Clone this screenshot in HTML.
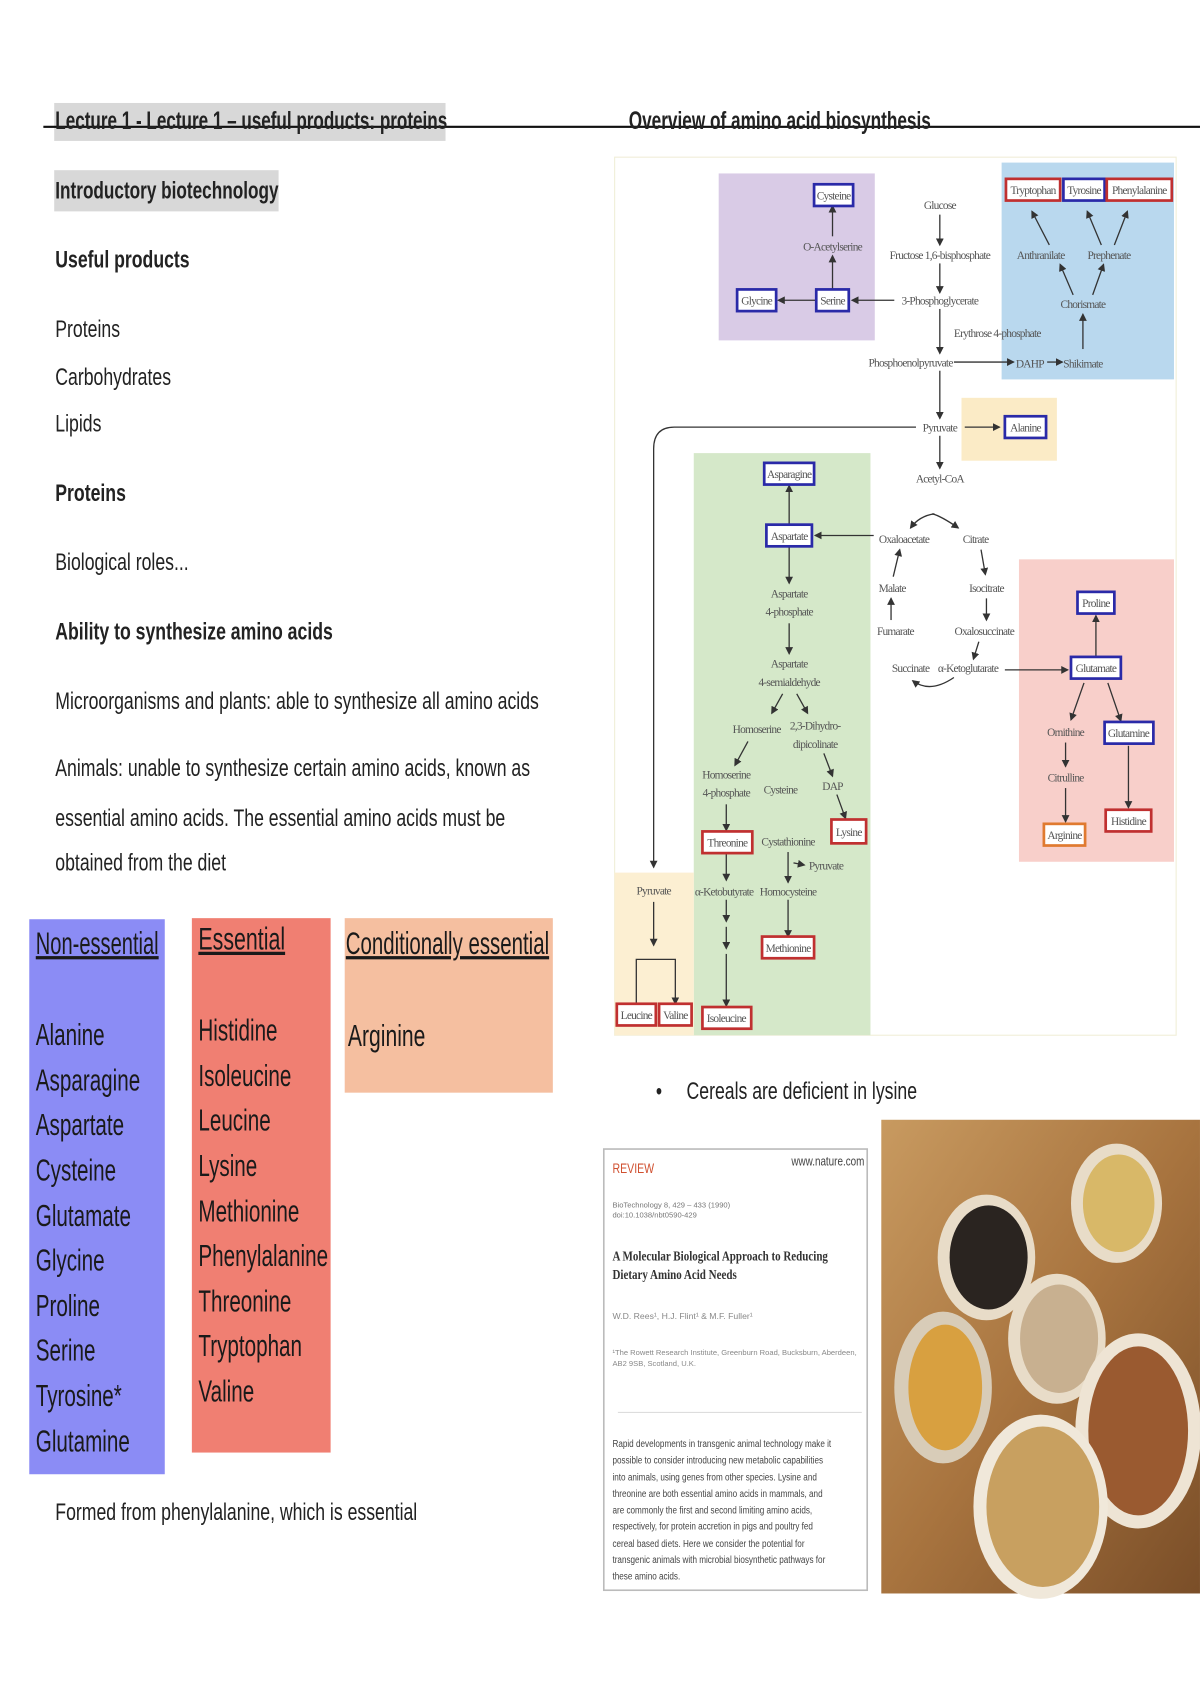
<!DOCTYPE html>
<html><head><meta charset="utf-8">
<style>
html,body{margin:0;padding:0;background:#fff;}
body{width:1200px;height:1700px;overflow:hidden;position:relative;}
#w{position:absolute;left:0;top:0;width:1107px;height:1568px;transform:scale(1.084);transform-origin:0 0;font-family:"Liberation Sans",sans-serif;color:#222;}
.t{position:absolute;white-space:nowrap;font-size:22px;line-height:1;transform:scaleX(0.74);transform-origin:0 0;}
.b{font-weight:bold;}
.box{position:absolute;}
.lst{position:absolute;font-size:28px;line-height:41.6px;color:#1a1a1a;white-space:nowrap;transform:scaleX(0.68);transform-origin:0 0;}
.hd{font-size:29px;text-decoration:underline;text-decoration-thickness:3px;}
svg text{font-family:"Liberation Serif",serif;font-size:10.5px;fill:#555;text-anchor:middle;letter-spacing:-0.7px;}
</style></head><body><div id="w">
<div class="box" style="left:50px;top:95px;width:361px;height:35px;background:#d8d8d8"></div>
<div class="box" style="left:40px;top:116px;width:1067px;height:2px;background:#111"></div>
<div class="t b" style="left:51px;top:100px;font-size:23px;transform:scaleX(0.685)">Lecture 1 - Lecture 1 – useful products: proteins</div>
<div class="t b" style="left:580px;top:100px;font-size:23px;transform:scaleX(0.69)">Overview of amino acid biosynthesis</div>
<div class="box" style="left:50px;top:157px;width:207px;height:38px;background:#d8d8d8"></div>
<div class="t b" style="left:51px;top:165px;transform:scaleX(0.72)">Introductory biotechnology</div>
<div class="t b" style="left:51px;top:229px">Useful products</div>
<div class="t" style="left:51px;top:293px">Proteins</div>
<div class="t" style="left:51px;top:337px">Carbohydrates</div>
<div class="t" style="left:51px;top:380px">Lipids</div>
<div class="t b" style="left:51px;top:444px">Proteins</div>
<div class="t" style="left:51px;top:508px">Biological roles...</div>
<div class="t b" style="left:51px;top:572px">Ability to synthesize amino acids</div>
<div class="t" style="left:51px;top:636px">Microorganisms and plants: able to synthesize all amino acids</div>
<div class="t" style="left:51px;top:698px">Animals: unable to synthesize certain amino acids, known as</div>
<div class="t" style="left:51px;top:744px">essential amino acids. The essential amino acids must be</div>
<div class="t" style="left:51px;top:785px">obtained from the diet</div>
<div class="box" style="left:27px;top:848px;width:125px;height:512px;background:#8b8cf5"></div>
<div class="box" style="left:177px;top:847px;width:128px;height:493px;background:#f07f72"></div>
<div class="box" style="left:318px;top:847px;width:192px;height:161px;background:#f5bfa0"></div>
<div class="lst" style="left:33px;top:851px"><div class="hd" style="transform:scaleX(0.94);transform-origin:0 0">Non-essential</div><br>Alanine<br>Asparagine<br>Aspartate<br>Cysteine<br>Glutamate<br>Glycine<br>Proline<br>Serine<br>Tyrosine*<br>Glutamine</div>
<div class="lst" style="left:183px;top:847px"><div class="hd">Essential</div><br>Histidine<br>Isoleucine<br>Leucine<br>Lysine<br>Methionine<br>Phenylalanine<br>Threonine<br>Tryptophan<br>Valine</div>
<div class="lst" style="left:319px;top:851px;transform:scaleX(0.65)"><div class="hd">Conditionally essential</div><div style="margin-top:42px;margin-left:3px;transform:scaleX(1.07);transform-origin:0 0">Arginine</div></div>
<div class="t" style="left:51px;top:1384px">Formed from phenylalanine, which is essential</div>
<div class="t" style="left:605px;top:996px">•&nbsp;&nbsp;&nbsp;&nbsp;&nbsp;Cereals are deficient in lysine</div>
<svg style="position:absolute;left:0;top:0" width="1107" height="1568">
<defs><marker id="a" markerWidth="6" markerHeight="6" refX="5" refY="3" orient="auto"><path d="M0,0L6,3L0,6z" fill="#333"/></marker></defs>
<rect x="567" y="145" width="518" height="810" fill="#fff" stroke="#f0eed8"/>
<rect x="663" y="160" width="144" height="154" fill="#d9cbe6"/>
<rect x="924" y="150" width="159" height="200" fill="#b9d8ee"/>
<rect x="887" y="367" width="88" height="58" fill="#fbebc6"/>
<rect x="640" y="418" width="163" height="537" fill="#d5e8c9"/>
<rect x="940" y="516" width="143" height="279" fill="#f8cfca"/>
<rect x="567" y="805" width="73" height="150" fill="#fcefd2"/>
<g stroke="#333" stroke-width="1.2" fill="none" marker-end="url(#a)">
<line x1="867" y1="198" x2="867" y2="226"/><line x1="867" y1="243" x2="867" y2="270"/>
<line x1="867" y1="285" x2="867" y2="326"/><line x1="867" y1="342" x2="867" y2="386"/>
<line x1="867" y1="402" x2="867" y2="432"/>
<line x1="825" y1="277" x2="786" y2="277"/><line x1="752" y1="277" x2="718" y2="277"/>
<line x1="768" y1="267" x2="768" y2="236"/><line x1="768" y1="218" x2="768" y2="190"/>
<line x1="880" y1="334" x2="935" y2="334"/><line x1="966" y1="334" x2="980" y2="334"/>
<line x1="999" y1="322" x2="999" y2="290"/><line x1="990" y1="272" x2="978" y2="244"/>
<line x1="1008" y1="272" x2="1018" y2="244"/><line x1="968" y1="226" x2="952" y2="195"/>
<line x1="1016" y1="226" x2="1003" y2="195"/><line x1="1028" y1="226" x2="1040" y2="195"/>
<line x1="890" y1="394" x2="922" y2="394"/>
<path d="M845,394 L622,394 Q603,394 603,414 L603,800"/>
<line x1="806" y1="494" x2="752" y2="494"/><line x1="728" y1="484" x2="728" y2="448"/>
<line x1="728" y1="505" x2="728" y2="538"/><line x1="728" y1="575" x2="728" y2="603"/>
<line x1="722" y1="640" x2="712" y2="658"/><line x1="735" y1="640" x2="745" y2="658"/>
<line x1="690" y1="684" x2="678" y2="706"/><line x1="760" y1="695" x2="768" y2="716"/>
<line x1="772" y1="733" x2="780" y2="755"/><line x1="670" y1="742" x2="670" y2="766"/>
<line x1="670" y1="788" x2="670" y2="812"/><line x1="670" y1="830" x2="670" y2="850"/>
<line x1="670" y1="855" x2="670" y2="875"/><line x1="670" y1="880" x2="670" y2="928"/>
<line x1="727" y1="786" x2="727" y2="814"/><line x1="727" y1="830" x2="727" y2="864"/>
<line x1="732" y1="796" x2="742" y2="798"/>
<line x1="603" y1="832" x2="603" y2="872"/>
<path d="M587,926 L587,885 L623,885 L623,926"/>
<line x1="927" y1="618" x2="985" y2="618"/>
<line x1="1011" y1="606" x2="1011" y2="568"/><line x1="1000" y1="630" x2="988" y2="664"/>
<line x1="1022" y1="630" x2="1034" y2="665"/><line x1="983" y1="685" x2="983" y2="707"/>
<line x1="983" y1="727" x2="983" y2="758"/><line x1="1041" y1="688" x2="1041" y2="745"/>
<path d="M860,474 Q868,476 884,487"/><path d="M862,474 Q848,476 840,487"/>
<path d="M905,507 L909,530"/><path d="M910,552 L910,572"/><path d="M903,592 L898,608"/>
<path d="M880,625 Q858,640 842,628"/><path d="M822,572 L822,552"/><path d="M824,532 L830,507"/>
</g>
<g>
<text x="867" y="193">Glucose</text><text x="867" y="239">Fructose 1,6-bisphosphate</text>
<text x="867" y="281">3-Phosphoglycerate</text><text x="920" y="311">Erythrose 4-phosphate</text>
<text x="840" y="338">Phosphoenolpyruvate</text><text x="950" y="339">DAHP</text><text x="999" y="339">Shikimate</text>
<text x="960" y="239">Anthranilate</text><text x="1023" y="239">Prephenate</text><text x="999" y="284">Chorismate</text>
<text x="768" y="231">O-Acetylserine</text>
<text x="867" y="398">Pyruvate</text><text x="867" y="445">Acetyl-CoA</text>
<text x="834" y="501">Oxaloacetate</text><text x="900" y="501">Citrate</text>
<text x="823" y="546">Malate</text><text x="910" y="546">Isocitrate</text>
<text x="826" y="586">Fumarate</text><text x="908" y="586">Oxalosuccinate</text>
<text x="840" y="620">Succinate</text><text x="893" y="620">α-Ketoglutarate</text>
<text x="983" y="679">Ornithine</text><text x="983" y="721">Citrulline</text>
<text x="728" y="551">Aspartate</text><text x="728" y="568">4-phosphate</text>
<text x="728" y="616">Aspartate</text><text x="728" y="633">4-semialdehyde</text>
<text x="698" y="676">Homoserine</text><text x="752" y="673">2,3-Dihydro-</text><text x="752" y="690">dipicolinate</text>
<text x="670" y="718">Homoserine</text><text x="670" y="735">4-phosphate</text>
<text x="720" y="732">Cysteine</text><text x="768" y="729">DAP</text>
<text x="727" y="780">Cystathionine</text><text x="762" y="802">Pyruvate</text>
<text x="668" y="826">α-Ketobutyrate</text><text x="727" y="826">Homocysteine</text>
<text x="603" y="825">Pyruvate</text>
</g>
<g fill="#fff" stroke-width="2.5">
<rect x="751" y="170" width="36" height="20" stroke="#2a2aa8"/><rect x="753" y="267" width="30" height="20" stroke="#2a2aa8"/>
<rect x="680" y="267" width="36" height="20" stroke="#2a2aa8"/>
<rect x="928" y="165" width="50" height="20" stroke="#c03030"/><rect x="981" y="165" width="38" height="20" stroke="#2a2aa8"/>
<rect x="1021" y="165" width="60" height="20" stroke="#c03030"/>
<rect x="927" y="384" width="38" height="20" stroke="#2a2aa8"/>
<rect x="705" y="427" width="46" height="20" stroke="#2a2aa8"/><rect x="707" y="484" width="42" height="20" stroke="#2a2aa8"/>
<rect x="994" y="546" width="34" height="20" stroke="#2a2aa8"/><rect x="988" y="606" width="46" height="20" stroke="#2a2aa8"/>
<rect x="1019" y="666" width="45" height="20" stroke="#2a2aa8"/>
<rect x="963" y="760" width="38" height="20" stroke="#e07a30"/><rect x="1020" y="747" width="42" height="20" stroke="#c03030"/>
<rect x="767" y="756" width="32" height="22" stroke="#c03030"/><rect x="648" y="767" width="46" height="20" stroke="#c03030"/>
<rect x="703" y="864" width="48" height="20" stroke="#c03030"/><rect x="648" y="929" width="45" height="20" stroke="#c03030"/>
<rect x="569" y="926" width="36" height="20" stroke="#c03030"/><rect x="608" y="926" width="30" height="20" stroke="#c03030"/>
</g>
<g style="font-size:9.5px">
<text x="769" y="184">Cysteine</text><text x="768" y="281">Serine</text><text x="698" y="281">Glycine</text>
<text x="953" y="179">Tryptophan</text><text x="1000" y="179">Tyrosine</text><text x="1051" y="179">Phenylalanine</text>
<text x="946" y="398">Alanine</text><text x="728" y="441">Asparagine</text><text x="728" y="498">Aspartate</text>
<text x="1011" y="560">Proline</text><text x="1011" y="620">Glutamate</text><text x="1041" y="680">Glutamine</text>
<text x="982" y="774">Arginine</text><text x="1041" y="761">Histidine</text><text x="783" y="771">Lysine</text>
<text x="671" y="781">Threonine</text><text x="727" y="878">Methionine</text><text x="670" y="943">Isoleucine</text>
<text x="587" y="940">Leucine</text><text x="623" y="940">Valine</text>
</g>
<rect x="557" y="1060" width="243" height="407" fill="#fff" stroke="#bbb" stroke-width="1.5"/>
<line x1="570" y1="1303" x2="795" y2="1303" stroke="#ddd"/>
<defs><linearGradient id="g" x1="0" y1="0" x2="1" y2="1"><stop offset="0" stop-color="#c89a60"/><stop offset="0.5" stop-color="#a8743f"/><stop offset="1" stop-color="#7a4e28"/></linearGradient></defs>
<rect x="813" y="1033" width="294" height="437" fill="url(#g)"/>
<ellipse cx="910" cy="1160" rx="45" ry="58" fill="#e8dcc8"/><ellipse cx="912" cy="1160" rx="36" ry="48" fill="#2a2420"/>
<ellipse cx="1030" cy="1110" rx="42" ry="55" fill="#e8dcc8"/><ellipse cx="1032" cy="1110" rx="33" ry="45" fill="#d8b868"/>
<ellipse cx="975" cy="1235" rx="45" ry="60" fill="#e8dcc8"/><ellipse cx="977" cy="1235" rx="36" ry="50" fill="#c8b090"/>
<ellipse cx="870" cy="1280" rx="45" ry="70" fill="#d8ccb8"/><ellipse cx="872" cy="1280" rx="34" ry="58" fill="#d8a040"/>
<ellipse cx="1050" cy="1320" rx="58" ry="90" fill="#eee4d4"/><ellipse cx="1050" cy="1320" rx="46" ry="78" fill="#9a5a30"/>
<ellipse cx="960" cy="1390" rx="62" ry="85" fill="#f0e8da"/><ellipse cx="962" cy="1390" rx="52" ry="74" fill="#c8a060"/>
</svg>
<div style="position:absolute;left:565px;top:1070px;font-size:13px;color:#d05030;transform:scaleX(0.75);transform-origin:0 0">REVIEW</div>
<div style="position:absolute;left:730px;top:1064px;font-size:12px;color:#444;transform:scaleX(0.76);transform-origin:0 0">www.nature.com</div>
<div style="position:absolute;left:565px;top:1108px;font-size:7px;line-height:9px;color:#777">BioTechnology 8, 429 – 433 (1990)<br>doi:10.1038/nbt0590-429</div>
<div style="position:absolute;left:565px;top:1150px;width:290px;font-family:'Liberation Serif',serif;font-weight:bold;font-size:13px;line-height:17px;color:#333;transform:scaleX(0.78);transform-origin:0 0">A Molecular Biological Approach to Reducing<br>Dietary Amino Acid Needs</div>
<div style="position:absolute;left:565px;top:1210px;font-size:8px;color:#888">W.D. Rees¹, H.J. Flint¹ &amp; M.F. Fuller¹</div>
<div style="position:absolute;left:565px;top:1244px;width:230px;font-size:7px;line-height:10px;color:#888">¹The Rowett Research Institute, Greenburn Road, Bucksburn, Aberdeen, AB2 9SB, Scotland, U.K.</div>
<div style="position:absolute;left:565px;top:1324px;width:290px;font-size:9.4px;line-height:15.3px;color:#444;transform:scaleX(0.8);transform-origin:0 0">Rapid developments in transgenic animal technology make it<br>possible to consider introducing new metabolic capabilities<br>into animals, using genes from other species. Lysine and<br>threonine are both essential amino acids in mammals, and<br>are commonly the first and second limiting amino acids,<br>respectively, for protein accretion in pigs and poultry fed<br>cereal based diets. Here we consider the potential for<br>transgenic animals with microbial biosynthetic pathways for<br>these amino acids.</div>
</div></body></html>
